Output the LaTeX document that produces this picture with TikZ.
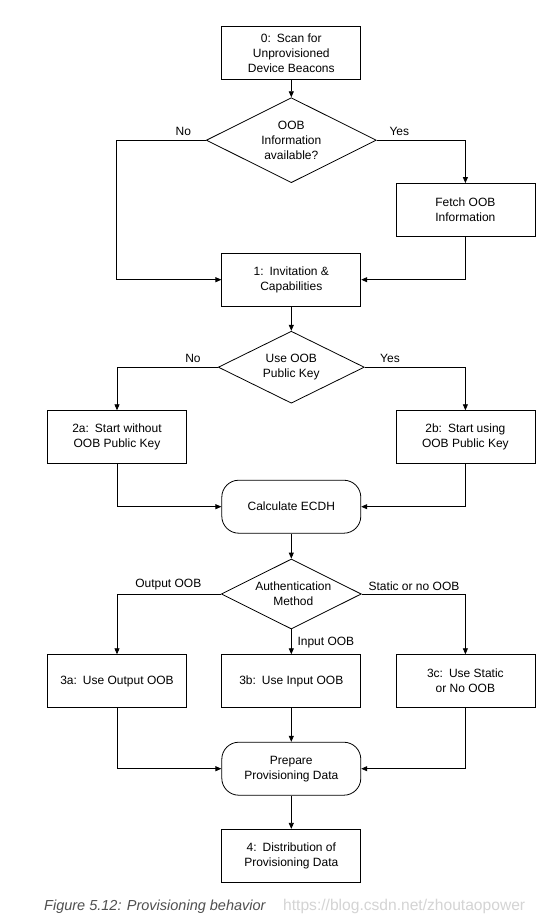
\documentclass[tikz,border=0pt]{standalone}
\usepackage{fontspec}
\setmainfont{Liberation Sans}
\usetikzlibrary{shapes.geometric,arrows.meta}
\definecolor{capgray}{HTML}{505050}
\definecolor{urlgray}{HTML}{D4D4D4}
\begin{document}
\begin{tikzpicture}[x=1pt,y=-1pt,
  box/.style={draw, line width=0.8pt, minimum width=139pt, minimum height=53pt,
    inner sep=0pt, align=center, font=\fontsize{12}{15}\selectfont},
  rbox/.style={box, rounded corners=17pt},
  dia/.style={draw, diamond, line width=0.8pt, inner sep=0pt},
  dtext/.style={align=center, inner sep=0pt, font=\fontsize{12}{15}\selectfont},
  lbl/.style={inner sep=0pt, font=\fontsize{12}{15}\selectfont},
  arr/.style={line width=0.8pt, -{Triangle[length=6pt,width=5pt]}},
  ln/.style={line width=0.8pt}
  ]
\fill[white] (0,0) rectangle (540,920);
\path[use as bounding box] (0,0) rectangle (540,920);

% nodes
\node[box] (b0) at (291.3,53) {0:\enspace Scan for\\Unprovisioned\\Device Beacons};
\node[dia, minimum width=170pt, minimum height=85pt] (d1) at (291.3,140.2) {};
\node[dtext] (d1t) at (d1.center) {OOB\\Information\\available?};
\node[box] (fetch) at (465.4,210) {Fetch OOB\\Information};
\node[box] (b1) at (291.3,279.7) {1:\enspace Invitation \&\\Capabilities};
\node[dia, minimum width=146pt, minimum height=72pt] (d2) at (291.3,367.2) {};
\node[dtext] (d2t) at (d2.center) {Use OOB\\Public Key};
\node[box] (b2a) at (117,437.2) {2a:\enspace Start without\\OOB Public Key};
\node[box] (b2b) at (465.4,437.2) {2b:\enspace Start using\\OOB Public Key};
\node[rbox] (calc) at (291.3,506.7) {Calculate ECDH};
\node[dia, minimum width=140pt, minimum height=70pt] (d3) at (291.3,594) {};
\node[dtext] (d3t) at ([xshift=2pt]d3.center) {Authentication\\Method};
\node[box] (b3a) at (117,681.2) {3a:\enspace Use Output OOB};
\node[box] (b3b) at (291.3,681.2) {3b:\enspace Use Input OOB};
\node[box] (b3c) at (465.4,681.2) {3c:\enspace Use Static\\or No OOB};
\node[rbox] (prep) at (291.3,768.7) {Prepare\\Provisioning Data};
\node[box] (b4) at (291.3,855.8) {4:\enspace Distribution of\\Provisioning Data};

% bend coordinates
\coordinate (c1) at (116.7,140.2);

% connectors
\draw[arr] (b0.south) -- (d1.north);
\draw[arr] (d1.west) -- (c1) |- (b1.west);
\draw[arr] (d1.east) -| (fetch.north);
\draw[arr] (fetch.south) |- (b1.east);
\draw[arr] (b1.south) -- (d2.north);
\draw[arr] (d2.west) -| (b2a.north);
\draw[arr] (d2.east) -| (b2b.north);
\draw[arr] (b2a.south) |- (calc.west);
\draw[arr] (b2b.south) |- (calc.east);
\draw[arr] (calc.south) -- (d3.north);
\draw[arr] (d3.west) -| (b3a.north);
\draw[arr] (d3.east) -| (b3c.north);
\draw[arr] (d3.south) -- (b3b.north);
\draw[arr] (b3a.south) |- (prep.west);
\draw[arr] (b3c.south) |- (prep.east);
\draw[arr] (b3b.south) -- (prep.north);
\draw[arr] (prep.south) -- (b4.north);

% labels
\node[lbl, anchor=base] (l1) at (183.3,136) {No};
\node[lbl, anchor=base] (l2) at (399.3,136) {Yes};
\node[lbl, anchor=base] (l3) at (193,362.7) {No};
\node[lbl, anchor=base] (l4) at (390,362.7) {Yes};
\node[lbl, anchor=base] (l5) at (168.3,587.7) {Output OOB};
\node[lbl, anchor=base] (l6) at (414,590) {Static or no OOB};
\node[lbl, anchor=base west] (l7) at (297.3,645.3) {Input OOB};

% caption
\node[inner sep=0pt, anchor=base west, text=capgray, font=\fontsize{14.5}{17}\selectfont\itshape] (cap) at (44,910) {Figure 5.12: Provisioning behavior};
\node[inner sep=0pt, anchor=base west, text=urlgray, font=\fontsize{15.6}{17}\selectfont] (url) at (283,910) {https://blog.csdn.net/zhoutaopower};
\end{tikzpicture}
\end{document}
